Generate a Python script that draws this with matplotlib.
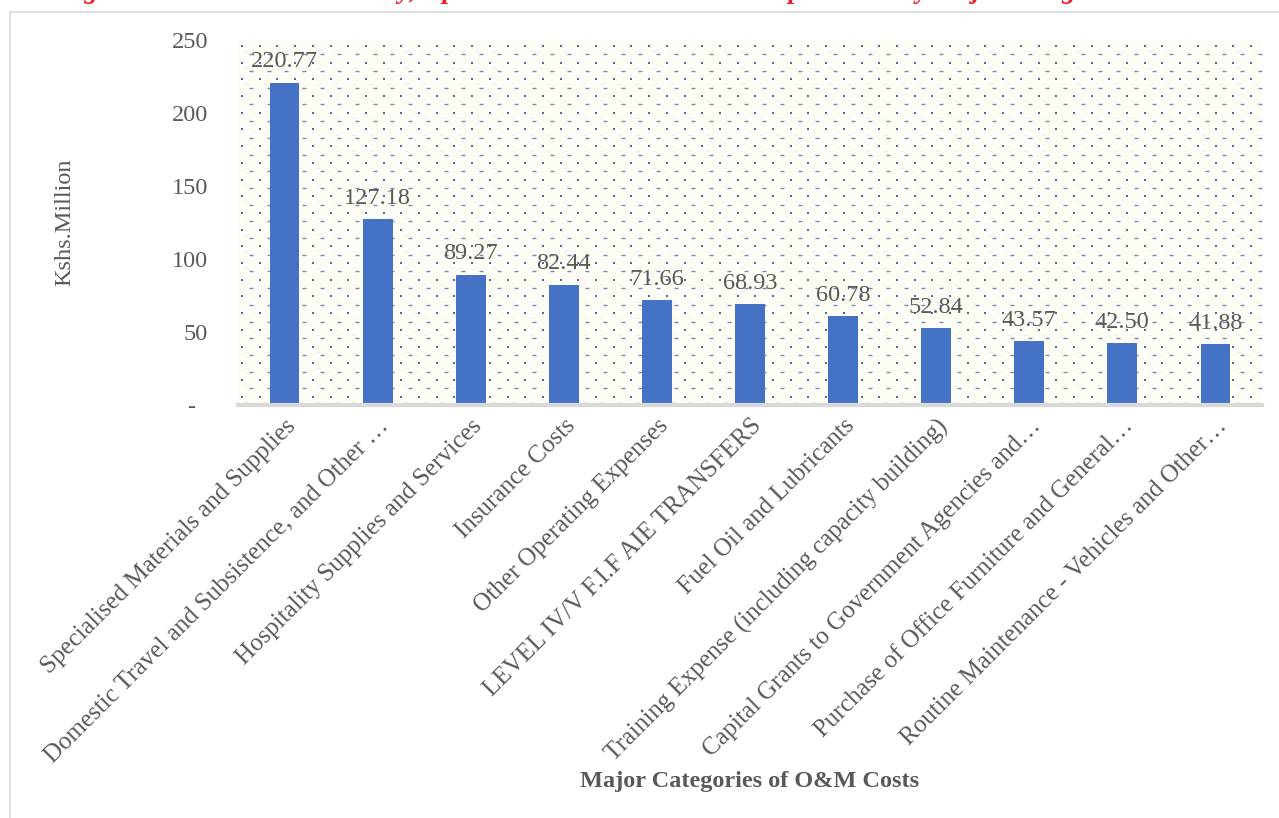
import numpy as np
import matplotlib
matplotlib.use("Agg")
import matplotlib.pyplot as plt
from matplotlib.patches import Rectangle

categories = [
    "Specialised Materials and Supplies",
    "Domestic Travel and Subsistence, and Other …",
    "Hospitality Supplies and Services",
    "Insurance Costs",
    "Other Operating Expenses",
    "LEVEL IV/V F.I.F AIE TRANSFERS",
    "Fuel Oil and Lubricants",
    "Training Expense (including capacity building)",
    "Capital Grants to Government Agencies and…",
    "Purchase of Office Furniture and General…",
    "Routine Maintenance - Vehicles and Other…",
]
values = [220.77, 127.18, 89.27, 82.44, 71.66, 68.93, 60.78, 52.84, 43.57, 42.50, 41.88]
y_ticks = [0, 50, 100, 150, 200, 250]
y_tick_labels = ["-  ", "50", "100", "150", "200", "250"]

title = ("Figure 4.12: Machakos County, Operations and Maintenance "
         "Expenditure by Major Categories")

plt.rcParams["font.family"] = ["Liberation Serif", "DejaVu Serif"]
GRAY = "#595959"
W, H = 1279, 818

fig = plt.figure(figsize=(W / 100, H / 100), dpi=100)
fig.patch.set_facecolor("white")

# outer chart frame (left and top edges visible)
fig.add_artist(Rectangle((10 / W, -0.05), 1.1, 1.05 - 12 / H,
                         transform=fig.transFigure, fill=False,
                         edgecolor="#d9d9d9", linewidth=1.2))

# figure caption, running off the top edge of the page
fig.text(1130 / W, 1 + 1.5 / H, title, ha="right", va="baseline",
         color="#ee1c25", fontsize=19.5, fontweight="bold", fontstyle="italic")

left, right = 238 / W, 1262 / W
bottom, top = 1 - 405 / H, 1 - 40 / H
ax = fig.add_axes([left, bottom, right - left, top - bottom])
ax.set_facecolor("#fdfdf6")

# dotted plot-area fill
ax_w_px = (right - left) * W
ax_h_px = (top - bottom) * H
dx, dy = 17.7, 16.7
xs = np.arange(4, ax_w_px, dx)
ys = np.arange(ax_h_px - 6, 0, -dy)
gx, gy = np.meshgrid(xs, ys)
ax.scatter(gx.ravel() / ax_w_px, gy.ravel() / ax_h_px, s=3.5, marker="s",
           color="#55679a", linewidths=0, transform=ax.transAxes, zorder=0.5)
hx, hy = np.meshgrid(xs + dx / 2, ys - dy / 2)
ax.scatter(hx.ravel() / ax_w_px, hy.ravel() / ax_h_px, s=7, marker="_",
           color="#7a88b8", linewidths=1.0, transform=ax.transAxes, zorder=0.5)
# faint pastel marks between dots
px, py = np.meshgrid(xs + dx * 0.3, ys - dy * 0.3)
ax.scatter(px.ravel() / ax_w_px, py.ravel() / ax_h_px, s=10, marker="$\\sim$",
           color="#e7ecd9", linewidths=0, transform=ax.transAxes, zorder=0.4)

x = np.arange(len(categories))
ax.bar(x, values, width=0.32, color="#4472C4", zorder=2)

for xi, v in zip(x, values):
    ax.text(xi, v + 7, f"{v:.2f}", ha="center", va="bottom",
            color=GRAY, fontsize=17.5, zorder=3)

ax.set_xlim(-0.5, len(categories) - 0.5)
ax.set_ylim(0, 250)
ax.set_yticks(y_ticks)
ax.set_yticklabels(y_tick_labels)
ax.tick_params(axis="y", length=0, pad=21.6, labelsize=17.5, labelcolor=GRAY)

ax.set_xticks(x)
ax.set_xticklabels(categories, rotation=45, ha="right", va="top",
                   rotation_mode="anchor", fontsize=18, color=GRAY)
ax.tick_params(axis="x", length=0, pad=7)

for side in ("left", "right", "top"):
    ax.spines[side].set_visible(False)
ax.spines["bottom"].set_color("#d9d9d9")
ax.spines["bottom"].set_linewidth(3)
ax.spines["bottom"].set_zorder(3)

ax.set_ylabel("Kshs.Million", color=GRAY, fontsize=17.5, labelpad=0)
ax.yaxis.set_label_coords((75 - 238) / ax_w_px, (405 - 222) / ax_h_px)

fig.text(750 / W, 1 - 782 / H, "Major Categories of O&M Costs", ha="center",
         va="center", color=GRAY, fontsize=17.5, fontweight="bold")

fig.savefig("out.png", dpi=100)
